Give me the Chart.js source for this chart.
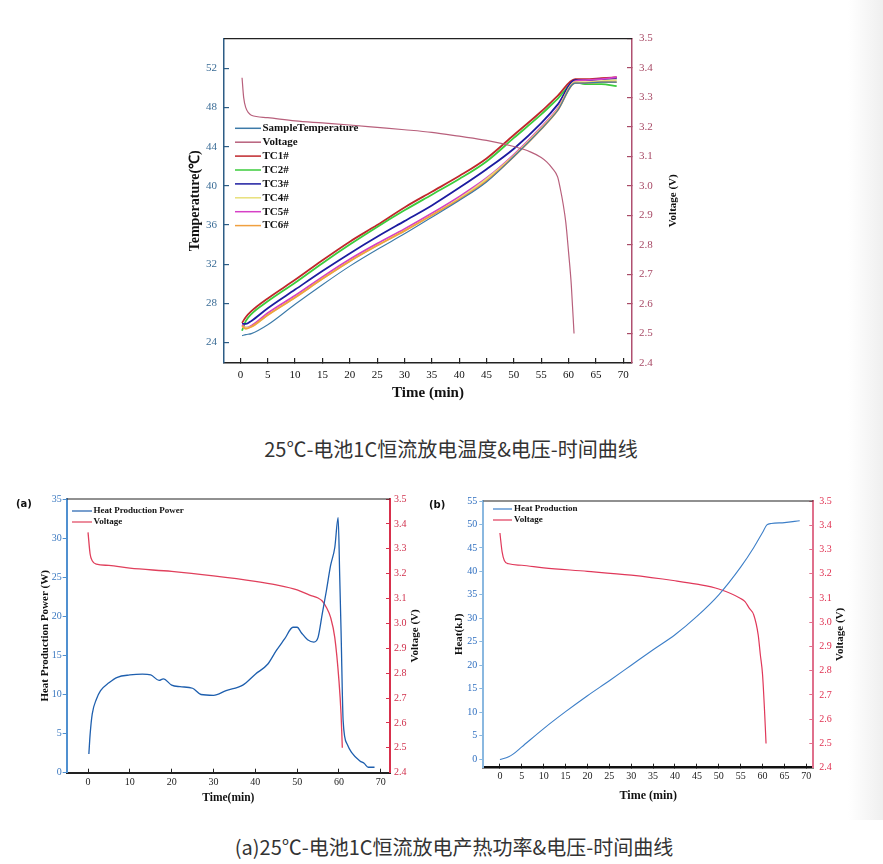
<!DOCTYPE html>
<html><head><meta charset="utf-8">
<script src="https://cdn.jsdelivr.net/npm/chart.js@4.4.1/dist/chart.umd.min.js"></script>
<style>
html,body{margin:0;padding:0;background:#fff;width:883px;height:864px;overflow:hidden;position:relative;font-family:"Noto Sans CJK SC","Noto Sans",sans-serif;}
canvas{position:absolute;}
#c1{left:150px;top:20px;}
#ca{left:0;top:485px;}
#cb{left:430px;top:485px;}
.cap{position:absolute;transform:translateX(-50%);white-space:nowrap;font-size:20px;color:#333;line-height:28px;}
.tag{position:absolute;font:bold 10px "DejaVu Sans",sans-serif;color:#111;}
#shade{position:absolute;left:848px;top:0;width:35px;height:820px;background:linear-gradient(to right,rgba(240,240,240,0),#efefef);}
</style></head>
<body>
<div id="shade"></div>
<canvas id="c1" width="560" height="400"></canvas>
<div class="cap" style="left:451px;top:435px">25℃-电池1C恒流放电温度&amp;电压-时间曲线</div>
<canvas id="ca" width="430" height="325"></canvas>
<canvas id="cb" width="453" height="325"></canvas>
<div class="tag" style="left:16px;top:498px">(a)</div>
<div class="tag" style="left:429px;top:499px">(b)</div>
<div class="cap" style="left:454px;top:833px">(a)25℃-电池1C恒流放电产热功率&amp;电压-时间曲线</div>
<script>
// ---------- Chart 1 data : temperatures & voltage vs time ----------
const timeTC = [0.3, 1, 2, 5, 10, 15, 20, 25, 30, 35, 40, 45, 50, 55, 58, 61.2, 63, 66, 68.8];
const sampleTemp = [24.7, 24.8, 24.9, 25.8, 27.9, 29.9, 31.8, 33.5, 35.1, 36.8, 38.5, 40.4, 43.0, 45.8, 47.7, 50.5, 50.5, 50.6, 50.6];
const tc1 = [26.0, 26.6, 27.2, 28.5, 30.4, 32.4, 34.3, 36.0, 37.8, 39.4, 41.0, 42.8, 45.2, 47.6, 49.2, 50.9, 50.9, 51.0, 51.1];
const tc2 = [25.2, 26.2, 26.9, 28.2, 30.1, 32.1, 34.0, 35.8, 37.5, 39.1, 40.7, 42.5, 44.9, 47.3, 48.9, 50.6, 50.4, 50.4, 50.2];
const tc3 = [25.9, 25.9, 26.2, 27.5, 29.4, 31.3, 33.1, 34.8, 36.4, 38.0, 39.8, 41.7, 43.8, 46.4, 48.3, 50.8, 50.8, 50.9, 51.0];
const tc4 = [25.6, 25.5, 25.6, 26.8, 28.6, 30.5, 32.3, 33.9, 35.4, 37.0, 38.7, 40.7, 43.1, 45.9, 47.8, 50.6, 50.6, 50.7, 50.8];
const tc5 = [25.8, 25.5, 25.7, 27.0, 28.8, 30.7, 32.5, 34.1, 35.6, 37.2, 38.9, 40.8, 43.2, 46.0, 47.9, 50.7, 50.8, 50.9, 51.1];
const tc6 = [25.7, 25.4, 25.6, 26.8, 28.6, 30.5, 32.3, 33.9, 35.4, 37.0, 38.6, 40.5, 43.0, 45.8, 47.7, 50.5, 50.5, 50.6, 50.6];
const timeV1 = [0.3, 0.6, 1, 1.5, 2, 5, 10, 15, 20, 25, 30, 35, 40, 45, 50, 53, 55, 56, 57, 58, 58.5, 59, 59.5, 60, 60.5, 61];
const volt1 = [3.367, 3.30, 3.265, 3.248, 3.24, 3.232, 3.221, 3.214, 3.207, 3.199, 3.191, 3.182, 3.169, 3.155, 3.134, 3.116, 3.097, 3.082, 3.061, 3.031, 2.99, 2.94, 2.876, 2.776, 2.665, 2.5];
const xTicks1 = [0, 5, 10, 15, 20, 25, 30, 35, 40, 45, 50, 55, 60, 65, 70];
const tempTicks = [24, 28, 32, 36, 40, 44, 48, 52];
const voltTicks = [2.4, 2.5, 2.6, 2.7, 2.8, 2.9, 3.0, 3.1, 3.2, 3.3, 3.4, 3.5];

// ---------- Chart (a) data : heat production power & voltage ----------
const timePowA = [0.2, 0.5, 1, 2, 3, 5, 7, 10, 13, 15, 17, 18, 20, 22, 25, 27, 30, 33, 37, 40, 43, 45, 47, 49, 50, 51, 52.5, 54, 55, 56, 57, 58, 59, 59.8, 60.2, 60.5, 61, 62, 63, 65, 66, 67, 68.5];
const powA = [2.4, 4.9, 7.5, 9.4, 10.5, 11.5, 12.2, 12.5, 12.6, 12.5, 11.8, 12.0, 11.2, 11.0, 10.8, 10.0, 9.9, 10.5, 11.2, 12.6, 13.9, 15.6, 17.1, 18.6, 18.6, 17.9, 17.0, 16.7, 17.3, 20.3, 23.3, 26.5, 28.8, 32.6, 24.6, 18.1, 6.6, 3.6, 2.6, 1.5, 1.2, 0.7, 0.7];
const timeVA = [0, 0.5, 1, 2, 5, 10, 20, 30, 40, 45, 50, 53, 55, 56, 57, 58, 59, 60, 60.5, 60.8];
const voltA = [3.366, 3.279, 3.252, 3.238, 3.233, 3.222, 3.209, 3.191, 3.169, 3.155, 3.135, 3.114, 3.102, 3.09, 3.064, 3.024, 2.943, 2.769, 2.635, 2.5];
const xTicksA = [0, 10, 20, 30, 40, 50, 60, 70];
const powTicks = [0, 5, 10, 15, 20, 25, 30, 35];

// ---------- Chart (b) data : heat production & voltage ----------
const timeHeatB = [0, 2, 3, 5, 10, 15, 20, 25, 30, 35, 40, 45, 50, 55, 58, 60, 61, 62, 65, 68.5];
const heatB = [-0.1, 0.5, 1.05, 2.6, 6.5, 10.1, 13.5, 16.7, 20.0, 23.3, 26.5, 30.4, 35.0, 40.9, 45.1, 48.3, 49.9, 50.2, 50.4, 50.8];
const timeVB = [0, 0.5, 1, 2, 5, 10, 20, 30, 40, 45, 50, 55, 56, 57, 58, 59, 59.5, 60, 60.5, 60.8];
const voltB = [3.368, 3.29, 3.255, 3.241, 3.235, 3.224, 3.21, 3.194, 3.171, 3.157, 3.137, 3.098, 3.085, 3.057, 3.03, 2.949, 2.866, 2.785, 2.62, 2.5];
const xTicksB = [0, 5, 10, 15, 20, 25, 30, 35, 40, 45, 50, 55, 60, 65, 70];
const heatTicks = [0, 5, 10, 15, 20, 25, 30, 35, 40, 45, 50, 55];

// ---------- helpers ----------
const pts = (xs, ys) => xs.map((x, i) => ({x: x, y: ys[i]}));
const setTicks = arr => s => { s.ticks = arr.map(v => ({value: v})); };
const SERIF = 'Liberation Serif';

const extras = {
  id: 'extras',
  afterDraw(chart, args, o) {
    const ctx = chart.ctx, ca = chart.chartArea;
    ctx.save();
    if (o.top) {
      ctx.strokeStyle = o.top.color; ctx.lineWidth = o.top.width;
      ctx.beginPath(); ctx.moveTo(ca.left, ca.top); ctx.lineTo(ca.right, ca.top); ctx.stroke();
    }
    if (o.rightTitle) {
      const r = o.rightTitle;
      ctx.save();
      ctx.translate(r.x, (ca.top + ca.bottom) / 2);
      ctx.rotate(-Math.PI / 2);
      ctx.font = r.font; ctx.fillStyle = r.color;
      ctx.textAlign = 'center'; ctx.textBaseline = 'middle';
      ctx.fillText(r.text, 0, 0);
      ctx.restore();
    }
    if (o.legend) {
      const L = o.legend;
      ctx.font = L.font; ctx.textAlign = 'left'; ctx.textBaseline = 'middle';
      chart.data.datasets.forEach((d, i) => {
        const y = L.y + i * L.rowH;
        ctx.strokeStyle = d.borderColor; ctx.lineWidth = L.lineW || 1.5;
        ctx.beginPath(); ctx.moveTo(L.x, y); ctx.lineTo(L.x + L.lineLen, y); ctx.stroke();
        ctx.fillStyle = L.color || '#111';
        ctx.fillText(d.label, L.x + L.lineLen + L.gap, y);
      });
    }
    ctx.restore();
  }
};

function lineDs(label, xs, ys, color, width, axis) {
  return {label: label, data: pts(xs, ys), borderColor: color, backgroundColor: color,
    borderWidth: width, pointRadius: 0, cubicInterpolationMode: 'monotone', fill: false, yAxisID: axis};
}

// ---------- Chart 1 ----------
new Chart(document.getElementById('c1'), {
  type: 'line',
  data: {datasets: [
    lineDs('SampleTemperature', timeTC, sampleTemp, '#3c7aa8', 1.1, 'y'),
    lineDs('Voltage', timeV1, volt1, '#b8607c', 1.2, 'y2'),
    lineDs('TC6#', timeTC, tc6, '#f0a040', 1.8, 'y'),
    lineDs('TC4#', timeTC, tc4, '#e8e07a', 1.8, 'y'),
    lineDs('TC5#', timeTC, tc5, '#d640c6', 1.8, 'y'),
    lineDs('TC3#', timeTC, tc3, '#1c1ca0', 1.8, 'y'),
    lineDs('TC2#', timeTC, tc2, '#3ccc3c', 1.8, 'y'),
    lineDs('TC1#', timeTC, tc1, '#c0282c', 1.8, 'y')
  ]},
  options: {
    responsive: false, animation: false, devicePixelRatio: 1,
    layout: {padding: {top: 10, left: 0, right: 0, bottom: 0}},
    plugins: {legend: {display: false}, tooltip: {enabled: false},
      extras: {
        top: {color: '#222', width: 1.3},
        rightTitle: {text: 'Voltage (V)', x: 523, font: 'bold 11px "Liberation Serif"', color: '#111'},
        legendItems: null,
        legend: null
      }},
    scales: {
      x: {type: 'linear', min: -3, max: 71.6, afterBuildTicks: setTicks(xTicks1), afterFit: s => { s.height = 57; },
        grid: {drawOnChartArea: false, drawTicks: true, tickLength: -5, tickColor: '#222', lineWidth: 1.2},
        border: {color: '#222', width: 1.5},
        ticks: {padding: 10.4, color: '#111', font: {family: SERIF, size: 11}, autoSkip: false, maxRotation: 0},
        title: {display: true, text: 'Time (min)', color: '#111', font: {family: SERIF, size: 15, weight: 'bold'}, padding: {top: 0, bottom: 18}}},
      y: {type: 'linear', position: 'left', min: 21.9, max: 55.05, afterBuildTicks: setTicks(tempTicks), afterFit: s => { s.width = 74; },
        grid: {drawOnChartArea: false, drawTicks: true, tickLength: -5, tickColor: '#2d5d86', lineWidth: 1.2},
        border: {color: '#2d5d86', width: 1.5},
        ticks: {padding: 12, color: '#3a6c96', font: {family: SERIF, size: 11}},
        title: {display: true, text: 'Temperature(℃)', color: '#111', font: {family: SERIF, size: 14, weight: 'bold'}, padding: {top: 36.6, bottom: 0}}},
      y2: {type: 'linear', position: 'right', min: 2.4, max: 3.5, afterBuildTicks: setTicks(voltTicks), afterFit: s => { s.width = 78; },
        grid: {drawOnChartArea: false, drawTicks: true, tickLength: -5, tickColor: '#a84a66', lineWidth: 1.2},
        border: {color: '#b05070', width: 1.5},
        ticks: {padding: 12, color: '#a84a66', font: {family: SERIF, size: 11}, callback: v => Number(v).toFixed(1)}}
    }
  },
  plugins: [{
    id: 'legend1',
    afterDraw(chart) {
      const ctx = chart.ctx;
      const order = ['SampleTemperature', 'Voltage', 'TC1#', 'TC2#', 'TC3#', 'TC4#', 'TC5#', 'TC6#'];
      ctx.save();
      ctx.font = 'bold 11px "Liberation Serif"'; ctx.textAlign = 'left'; ctx.textBaseline = 'middle';
      order.forEach((lab, i) => {
        const d = chart.data.datasets.find(ds => ds.label === lab);
        const y = 108.3 + i * 13.9;
        ctx.strokeStyle = d.borderColor; ctx.lineWidth = 1.5;
        ctx.beginPath(); ctx.moveTo(85, y); ctx.lineTo(111, y); ctx.stroke();
        ctx.fillStyle = '#111'; ctx.fillText(lab, 112.5, y);
      });
      ctx.restore();
    }
  }, extras]
});

// ---------- Chart (a) ----------
new Chart(document.getElementById('ca'), {
  type: 'line',
  data: {datasets: [
    lineDs('Heat Production Power', timePowA, powA, '#1e5fae', 1.3, 'y'),
    lineDs('Voltage', timeVA, voltA, '#e0405c', 1.3, 'y2')
  ]},
  options: {
    responsive: false, animation: false, devicePixelRatio: 1,
    layout: {padding: {top: 13.3, left: 0, right: 0, bottom: 0}},
    plugins: {legend: {display: false}, tooltip: {enabled: false},
      extras: {
        top: {color: '#222', width: 1},
        rightTitle: {text: 'Voltage (V)', x: 415, font: 'bold 11px "Liberation Serif"', color: '#111'},
        legend: {x: 72, y: 26, rowH: 11, lineLen: 20, gap: 1.5, font: 'bold 9px "Liberation Serif"', lineW: 1.2}
      }},
    scales: {
      x: {type: 'linear', min: -5.1, max: 72.2, afterBuildTicks: setTicks(xTicksA), afterFit: s => { s.height = 37.3; },
        grid: {drawOnChartArea: false, drawTicks: true, tickLength: -4, tickColor: '#222', lineWidth: 1},
        border: {color: '#222', width: 2},
        ticks: {padding: 8, color: '#222', font: {family: SERIF, size: 10}, autoSkip: false, maxRotation: 0},
        title: {display: true, text: 'Time(min)', color: '#111', font: {family: SERIF, size: 11.5, weight: 'bold'}, padding: {top: 0, bottom: 5.1}}},
      y: {type: 'linear', position: 'left', min: 0, max: 35, afterBuildTicks: setTicks(powTicks), afterFit: s => { s.width = 66.7; },
        grid: {drawOnChartArea: false, drawTicks: true, tickLength: 4, tickColor: '#5090d0', lineWidth: 1},
        border: {color: '#5090d0', width: 2},
        ticks: {padding: 1, color: '#3a78c0', font: {family: SERIF, size: 10}},
        title: {display: true, text: 'Heat Production Power (W)', color: '#111', font: {family: SERIF, size: 11, weight: 'bold'}, padding: {top: 38.4, bottom: 0}}},
      y2: {type: 'linear', position: 'right', min: 2.4, max: 3.5, afterBuildTicks: setTicks(voltTicks), afterFit: s => { s.width = 40; },
        grid: {drawOnChartArea: false, drawTicks: true, tickLength: -4, tickColor: '#d8304c', lineWidth: 1},
        border: {color: '#d8304c', width: 2},
        ticks: {padding: 8, color: '#d0304c', font: {family: SERIF, size: 10}, callback: v => Number(v).toFixed(1)}}
    }
  },
  plugins: [extras]
});

// ---------- Chart (b) ----------
new Chart(document.getElementById('cb'), {
  type: 'line',
  data: {datasets: [
    lineDs('Heat Production', timeHeatB, heatB, '#3d7fc8', 1.1, 'y'),
    lineDs('Voltage', timeVB, voltB, '#e0385a', 1.2, 'y2')
  ]},
  options: {
    responsive: false, animation: false, devicePixelRatio: 1,
    layout: {padding: {top: 13.3, left: 0, right: 0, bottom: 0}},
    plugins: {legend: {display: false}, tooltip: {enabled: false},
      extras: {
        top: {color: '#222', width: 1.2},
        rightTitle: {text: 'Voltage (V)', x: 410, font: 'bold 11px "Liberation Serif"', color: '#111'},
        legend: {x: 63, y: 24, rowH: 11, lineLen: 19, gap: 2, font: 'bold 9px "Liberation Serif"', lineW: 1.2}
      }},
    scales: {
      x: {type: 'linear', min: -3.8, max: 71.6, afterBuildTicks: setTicks(xTicksB), afterFit: s => { s.height = 42.3; },
        grid: {drawOnChartArea: false, drawTicks: true, tickLength: -4, tickColor: '#222', lineWidth: 1},
        border: {color: '#111', width: 2.5},
        ticks: {padding: 7, color: '#222', font: {family: SERIF, size: 10}, autoSkip: false, maxRotation: 0},
        title: {display: true, text: 'Time (min)', color: '#111', font: {family: SERIF, size: 12, weight: 'bold'}, padding: {top: 0, bottom: 6.8}}},
      y: {type: 'linear', position: 'left', min: -1.84, max: 55, afterBuildTicks: setTicks(heatTicks), afterFit: s => { s.width = 53.3; },
        grid: {drawOnChartArea: false, drawTicks: true, tickLength: 4, tickColor: '#8ab8e0', lineWidth: 1},
        border: {color: '#8ab8e0', width: 2},
        ticks: {padding: 2, color: '#2f6fc0', font: {family: SERIF, size: 10}},
        title: {display: true, text: 'Heat(kJ)', color: '#111', font: {family: SERIF, size: 11, weight: 'bold'}, padding: {top: 22.4, bottom: 0}}},
      y2: {type: 'linear', position: 'right', min: 2.4, max: 3.5, afterBuildTicks: setTicks(voltTicks), afterFit: s => { s.width = 69.7; },
        grid: {drawOnChartArea: false, drawTicks: true, tickLength: -4, tickColor: '#e0708c', lineWidth: 1},
        border: {color: '#e0708c', width: 2},
        ticks: {padding: 10, color: '#e03050', font: {family: SERIF, size: 10}, callback: v => Number(v).toFixed(1)}}
    }
  },
  plugins: [extras]
});
</script>
</body></html>
